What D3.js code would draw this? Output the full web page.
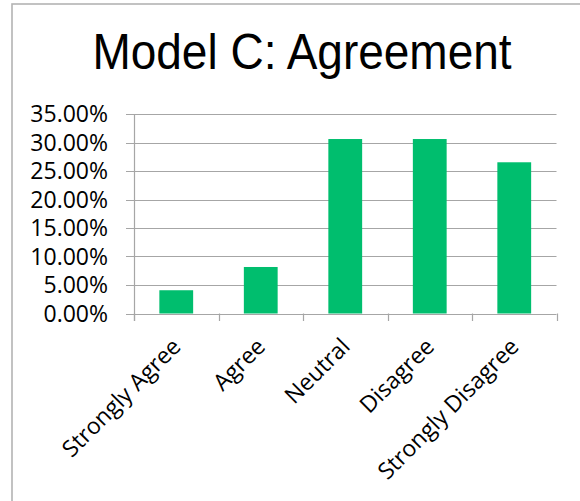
<!DOCTYPE html>
<html>
<head>
<meta charset="utf-8">
<script src="https://cdn.jsdelivr.net/npm/d3@7"></script>
<style>
  body { margin: 0; background: #fff; }
  svg { display: block; }
</style>
</head>
<body>
<svg id="chart" width="580" height="501"></svg>
<script>
const categories = ["Strongly Agree", "Agree", "Neutral", "Disagree", "Strongly Disagree"];
const values = [0.0408, 0.0816, 0.3061, 0.3061, 0.2653];
const yTicks = [0, 0.05, 0.10, 0.15, 0.20, 0.25, 0.30, 0.35];

const plotLeft = 134, plotRight = 556.5, plotTop = 114, plotBottom = 313.5;
const svg = d3.select("#chart");

// outer chart border (runs off the right and bottom like the screenshot)
svg.append("rect")
  .attr("x", 12).attr("y", 4)
  .attr("width", 600).attr("height", 600)
  .attr("fill", "none")
  .attr("stroke", "#b3b3b3")
  .attr("stroke-width", 1.6);

svg.append("text")
  .attr("text-anchor", "middle")
  .attr("transform", "translate(302,69) scale(1,1.07)")
  .style("font-family", "'Liberation Sans', Arial, sans-serif")
  .style("font-size", "46px")
  .attr("fill", "#000")
  .text("Model C: Agreement");

const x = d3.scaleBand()
  .domain(categories)
  .range([plotLeft, plotRight])
  .paddingInner(0.6)
  .paddingOuter(0.3);

const y = d3.scaleLinear()
  .domain([0, 0.35])
  .range([plotBottom, plotTop]);

const g = svg.append("g");

// gridlines
g.selectAll("line.grid")
  .data(yTicks)
  .join("line")
  .attr("class", "grid")
  .attr("x1", plotLeft - 8)
  .attr("x2", plotRight)
  .attr("y1", d => Math.round(y(d)) + 0.5)
  .attr("y2", d => Math.round(y(d)) + 0.5)
  .attr("stroke", "#a6a6a6")
  .attr("stroke-width", 1.2);

// bars
g.selectAll("rect.bar")
  .data(values)
  .join("rect")
  .attr("class", "bar")
  .attr("x", (d, i) => x(categories[i]))
  .attr("width", x.bandwidth())
  .attr("y", d => y(d))
  .attr("height", d => y(0) - y(d))
  .attr("fill", "#00be6e");

// y axis line
g.append("line")
  .attr("x1", plotLeft + 0.5).attr("x2", plotLeft + 0.5)
  .attr("y1", plotTop).attr("y2", 321)
  .attr("stroke", "#a6a6a6")
  .attr("stroke-width", 1.2);

// x axis tick marks at band boundaries
const step = x.step();
const bounds = d3.range(categories.length + 1).map(i => plotLeft + i * step);
g.selectAll("line.xtick")
  .data(bounds)
  .join("line")
  .attr("class", "xtick")
  .attr("x1", d => Math.round(d) + 0.5)
  .attr("x2", d => Math.round(d) + 0.5)
  .attr("y1", plotBottom)
  .attr("y2", 321)
  .attr("stroke", "#a6a6a6")
  .attr("stroke-width", 1.2);

// y tick labels
const fmt = d => (d * 100).toFixed(2) + "%";
g.selectAll("text.ylab")
  .data(yTicks)
  .join("text")
  .attr("class", "ylab")
  .attr("x", 108)
  .attr("y", d => y(d))
  .attr("dy", "0.35em")
  .attr("text-anchor", "end")
  .style("font-family", "'Open Sans', sans-serif")
  .style("font-size", "23px")
  .attr("fill", "#000")
  .text(fmt);

// x labels rotated
g.selectAll("text.xlab")
  .data(categories)
  .join("text")
  .attr("class", "xlab")
  .attr("text-anchor", "end")
  .attr("transform", d => `translate(${x(d) + x.bandwidth() / 2 + 6},348) rotate(-45)`)
  .style("font-family", "'Open Sans', sans-serif")
  .style("font-size", "23px")
  .attr("fill", "#000")
  .text(d => d);
</script>
</body>
</html>
